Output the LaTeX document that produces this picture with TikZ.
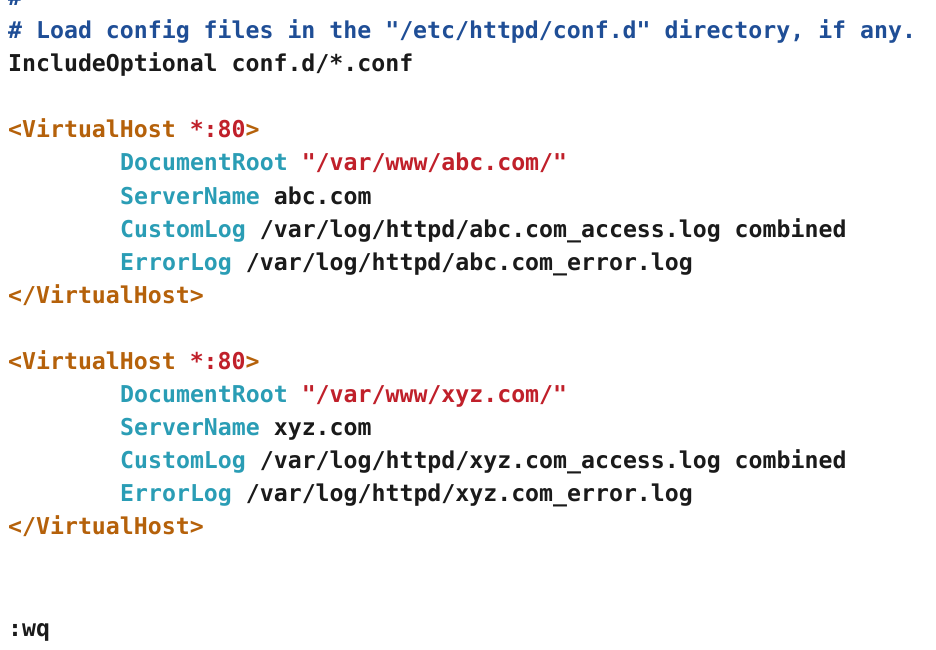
\documentclass[tikz,border=0pt]{standalone}
\usepackage{fontspec}
\setmonofont{DejaVu Sans Mono}
\usepackage{xcolor}
\definecolor{cm}{HTML}{1F4E96}
\definecolor{tg}{HTML}{B5610A}
\definecolor{rd}{HTML}{C0202A}
\definecolor{kw}{HTML}{2A9DB5}
\definecolor{tx}{HTML}{1A1A1A}
\begin{document}
\begin{tikzpicture}[x=1bp,y=-1bp,
  ln/.style={anchor=base west,inner sep=0pt,font=\ttfamily\bfseries\fontsize{23.2bp}{26bp}\selectfont,text=tx}]
\useasboundingbox[fill=white] (0,0) rectangle (936,650);
\def\L{8}\def\I{120}
\node[ln,text=cm] (l0) at (\L,6) {\#};
\node[ln,text=cm] (l1) at (\L,39) {\# Load config files in the "/etc/httpd/conf.d" directory, if any.};
\node[ln] (l2) at (\L,72) {IncludeOptional conf.d/*.conf};
\node[ln] (l4) at (\L,138) {\textcolor{tg}{<VirtualHost} \textcolor{rd}{*:80}\textcolor{tg}{>}};
\node[ln] (l5) at (\I,171) {\textcolor{kw}{DocumentRoot} \textcolor{rd}{"/var/www/abc.com/"}};
\node[ln] (l6) at (\I,204) {\textcolor{kw}{ServerName} abc.com};
\node[ln] (l7) at (\I,237) {\textcolor{kw}{CustomLog} /var/log/httpd/abc.com\_access.log combined};
\node[ln] (l8) at (\I,270) {\textcolor{kw}{ErrorLog} /var/log/httpd/abc.com\_error.log};
\node[ln,text=tg] (l9) at (\L,303) {</VirtualHost>};
\node[ln] (l11) at (\L,369) {\textcolor{tg}{<VirtualHost} \textcolor{rd}{*:80}\textcolor{tg}{>}};
\node[ln] (l12) at (\I,402) {\textcolor{kw}{DocumentRoot} \textcolor{rd}{"/var/www/xyz.com/"}};
\node[ln] (l13) at (\I,435) {\textcolor{kw}{ServerName} xyz.com};
\node[ln] (l14) at (\I,468) {\textcolor{kw}{CustomLog} /var/log/httpd/xyz.com\_access.log combined};
\node[ln] (l15) at (\I,501) {\textcolor{kw}{ErrorLog} /var/log/httpd/xyz.com\_error.log};
\node[ln,text=tg] (l16) at (\L,534) {</VirtualHost>};
\node[ln] (l19) at (\L,636) {:wq};
\end{tikzpicture}
\end{document}
